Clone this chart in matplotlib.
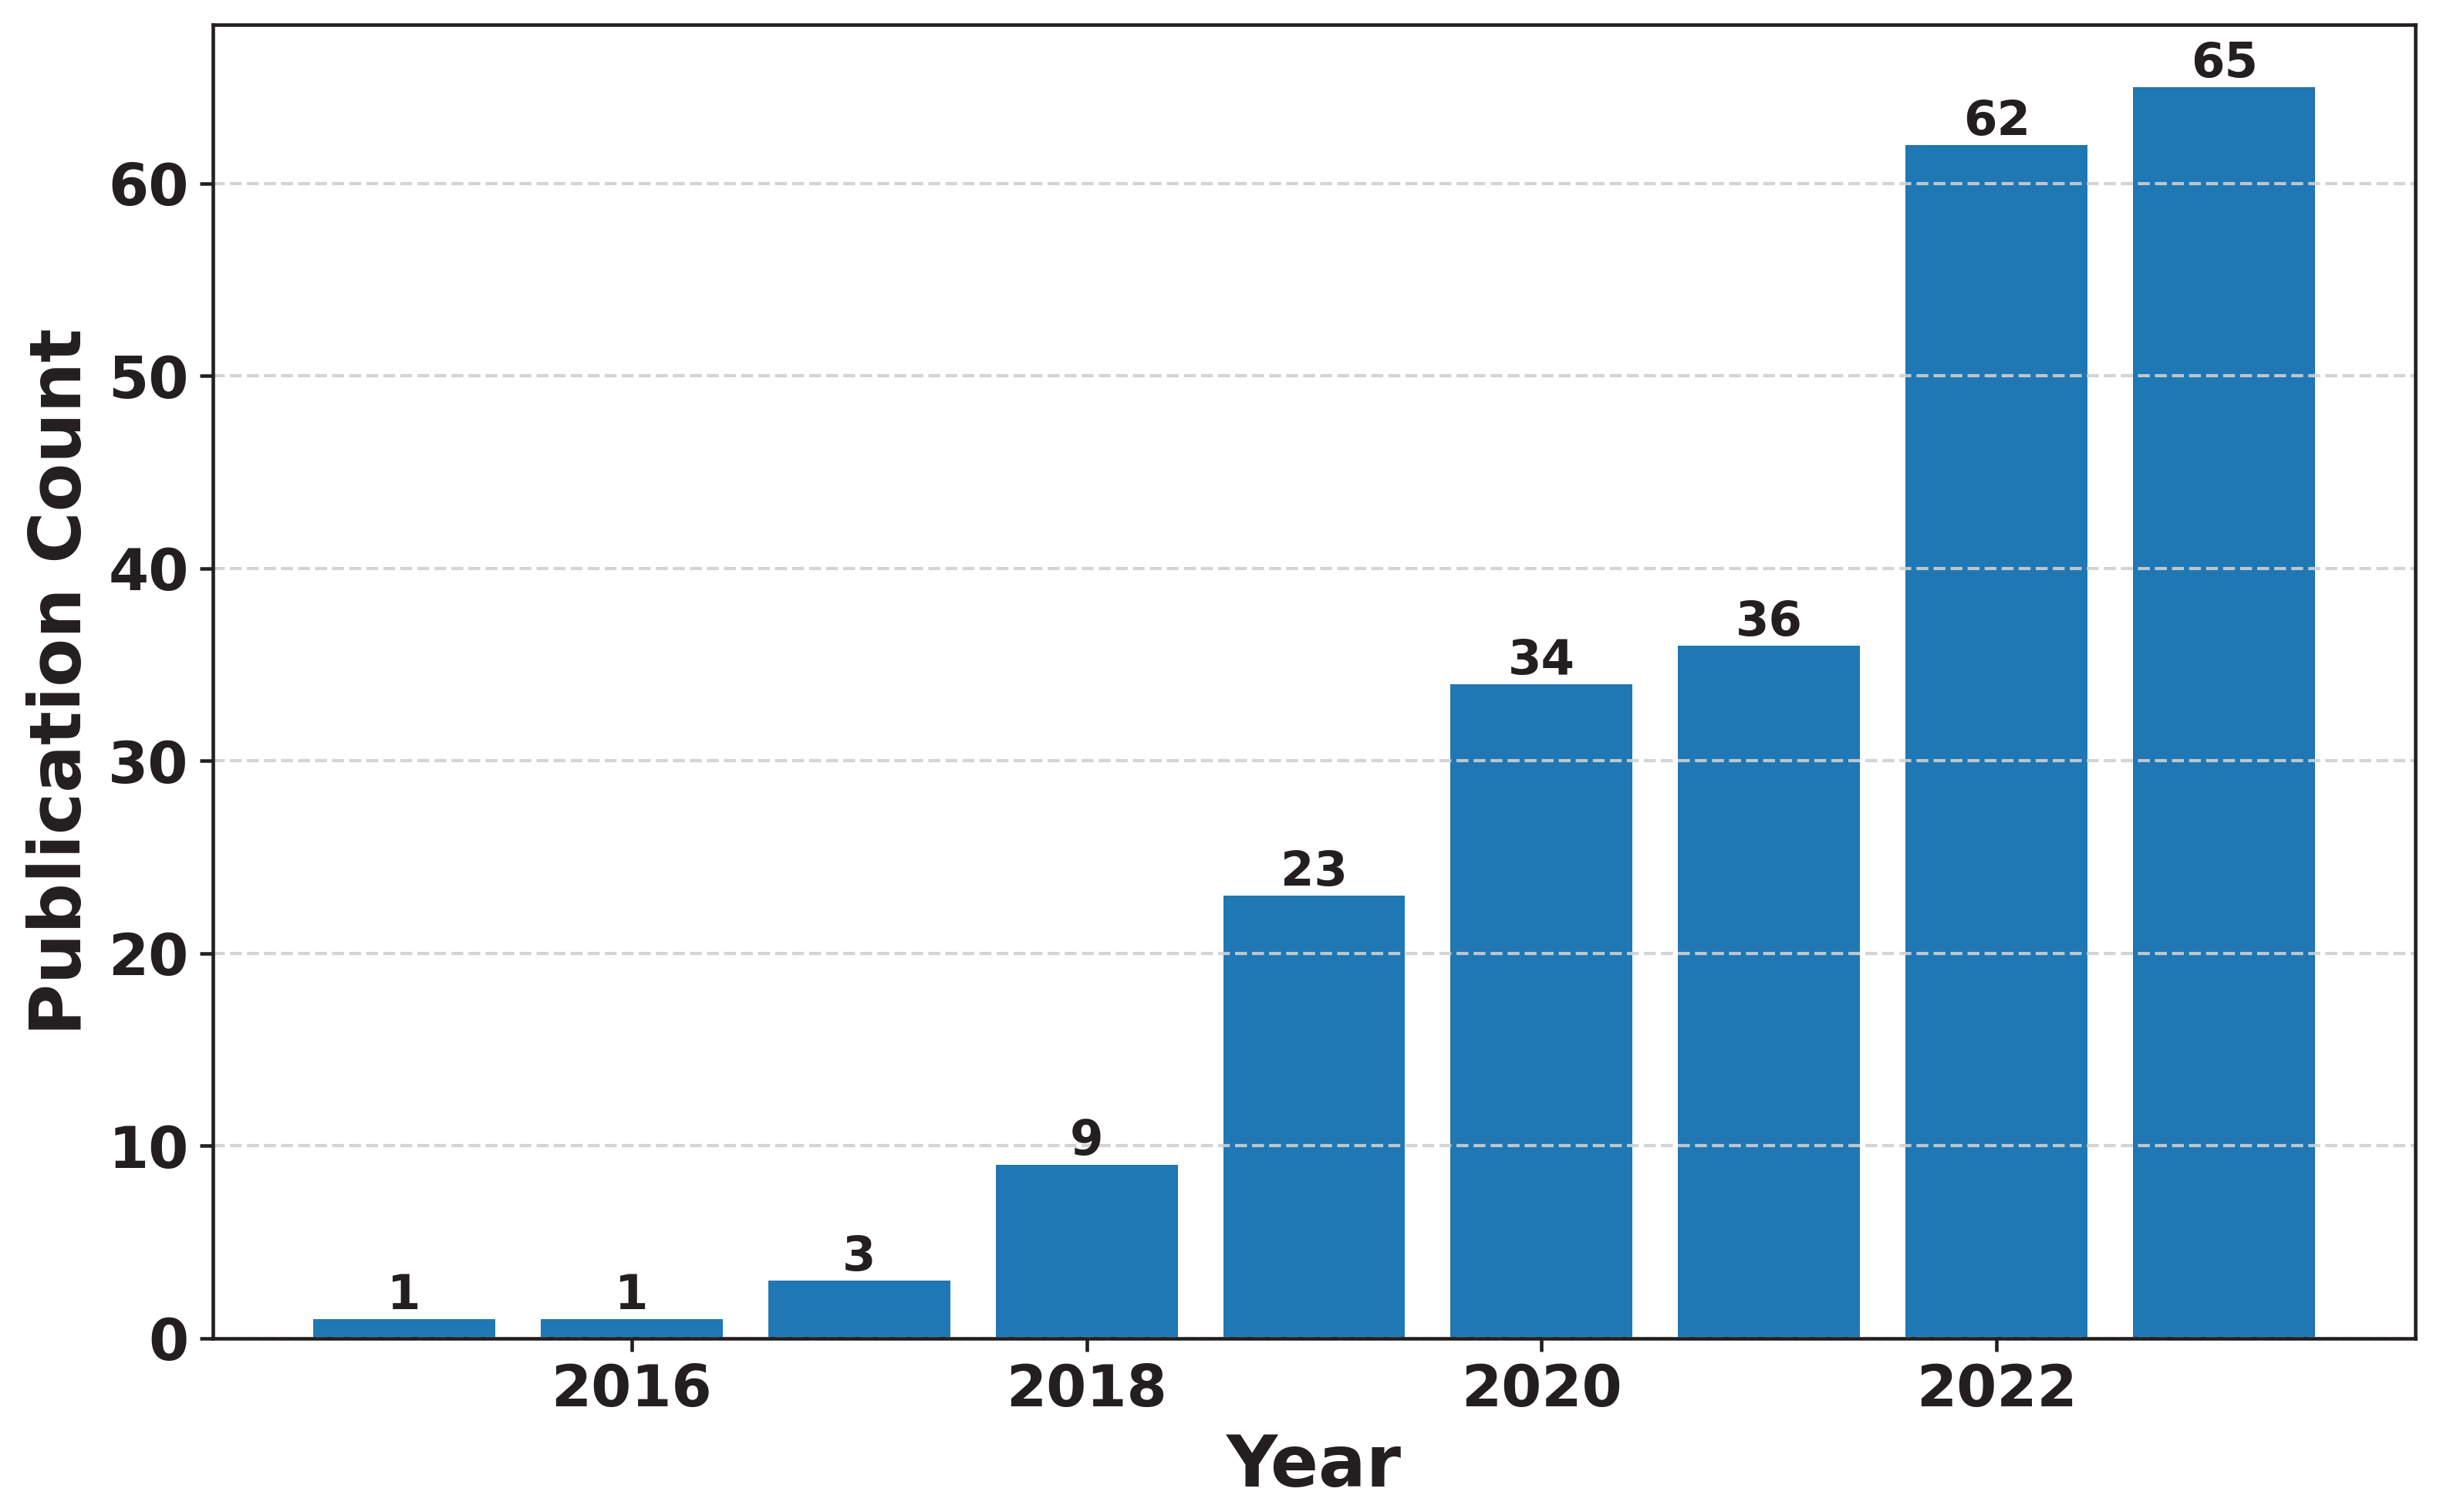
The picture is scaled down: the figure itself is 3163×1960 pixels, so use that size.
import matplotlib.pyplot as plt
import numpy as np

years = [2015, 2016, 2017, 2018, 2019, 2020, 2021, 2022, 2023]
counts = [1, 1, 3, 9, 23, 34, 36, 62, 65]

text_color = '#231f20'
bar_color = '#1f77b4'


def create_chart(output_file='out.png'):
    plt.rcParams['font.family'] = 'DejaVu Sans'
    plt.rcParams['font.weight'] = 'bold'

    fig = plt.figure(figsize=(3163 / 300, 1960 / 300), dpi=300)
    ax = fig.add_axes([276 / 3163, 225 / 1960, (3131 - 276) / 3163, (1735 - 32) / 1960])

    bars = ax.bar(years, counts, width=0.8, color=bar_color)

    for bar, val in zip(bars, counts):
        ax.text(bar.get_x() + bar.get_width() / 2, bar.get_height(), str(val),
                ha='center', va='bottom', fontsize=15, fontweight='bold', color=text_color)

    ax.set_xlabel('Year', fontsize=22, fontweight='bold', color=text_color)
    ax.set_ylabel('Publication Count', fontsize=22, fontweight='bold', color=text_color)

    ax.tick_params(axis='both', labelsize=18, colors=text_color, length=4, width=1.1)
    for label in ax.get_xticklabels() + ax.get_yticklabels():
        label.set_fontweight('bold')
    for spine in ax.spines.values():
        spine.set_color(text_color)
        spine.set_linewidth(1.1)

    ax.grid(axis='y', linestyle='--', color='#d0d0d0', linewidth=1.0, alpha=0.9)

    fig.savefig(output_file, dpi=300)


if __name__ == '__main__':
    create_chart()
